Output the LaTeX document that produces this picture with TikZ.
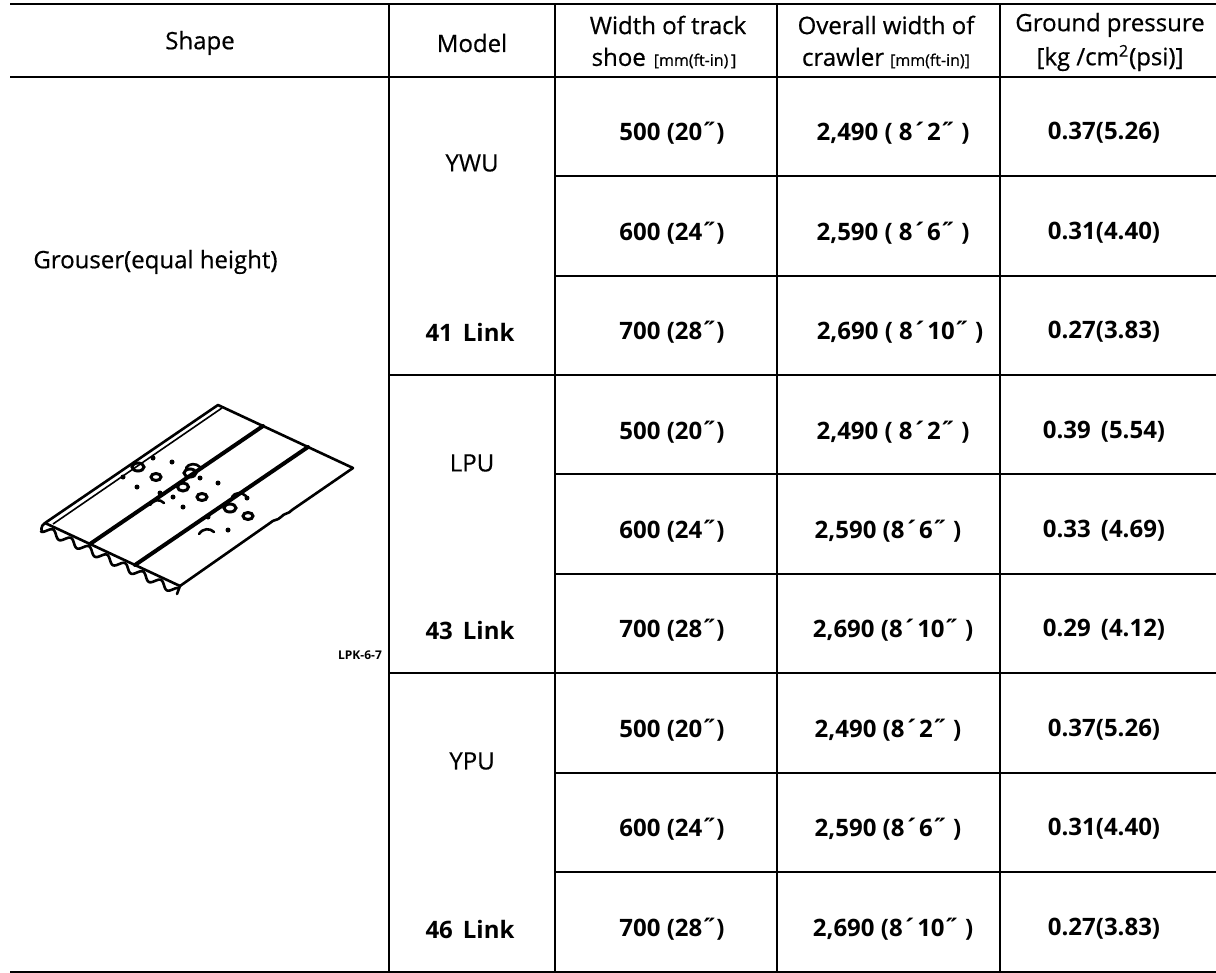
\documentclass[tikz,border=0pt]{standalone}
\usepackage{fontspec}
\setmainfont{Open Sans}
\begin{document}
\begin{tikzpicture}[x=0.5pt,y=-0.5pt]
\tikzset{
  hline/.style={line width=1.4pt},
  vline/.style={line width=1.1pt},
  hdr/.style={font=\fontsize{12}{14}\selectfont\addfontfeature{FakeBold=0.6}, inner sep=0pt},
  cell/.style={font=\bfseries\fontsize{12}{14}\selectfont, inner sep=0pt},
  modelname/.style={font=\fontsize{12}{14}\selectfont\addfontfeature{FakeBold=0.4}, inner sep=0pt},
  linkname/.style={font=\bfseries\fontsize{12}{14}\selectfont, inner sep=0pt},
  art/.style={line width=1.3pt, line join=round, line cap=round},
  ring/.style={line width=1.5pt},
}
\useasboundingbox (0,0) rectangle (1216,973);
\fill[white] (0,0) rectangle (1216,973);

% ---- grid ----
\draw[hline] (10,4) -- (1216,4);
\draw[hline] (10,77) -- (1216,77);
\foreach \yy in {176,276,474,574,773,872} \draw[hline] (555,\yy) -- (1216,\yy);
\foreach \yy in {375,673} \draw[hline] (389,\yy) -- (1216,\yy);
\draw[hline] (10,972) -- (1216,972);
\foreach \xx in {389,555,777,1000} \draw[vline] (\xx,4) -- (\xx,972);

% ---- header ----
\node[hdr] (hShape) at (200,43) {Shape};
\node[hdr] (hModel) at (472,43) {Model};
\node[hdr] (hW1) at (668,25) {Width of track};
\node[hdr] (hW2) at (664,58) {shoe\hspace{4pt}{\fontsize{8}{9}\selectfont [mm(ft-in)\,]}};
\node[hdr] (hO1) at (886,25) {Overall width of};
\node[hdr] (hO2) at (886,58) {crawler\hspace{3pt}{\fontsize{8}{9}\selectfont [mm(ft-in)]}};
\node[hdr] (hG1) at (1110,25) {Ground\hspace{3pt}pressure};
\node[hdr] (hG2) at (1110,58) {[kg /cm\textsuperscript{2}(psi)]};

% ---- shape column ----
\node[hdr, anchor=west] (shape) at (33,262) {Grouser(equal height)};
\node[font=\bfseries\fontsize{6}{7}\selectfont, inner sep=0pt] (code) at (360,655) {LPK-6-7};

% ---- model column ----
\node[modelname] (m1) at (472,163) {YWU};
\node[linkname] (l1) at (470,332) {41\hspace{5pt}Link};
\node[modelname] (m2) at (472,463) {LPU};
\node[linkname] (l2) at (470,630) {43\hspace{5pt}Link};
\node[modelname] (m3) at (472,761) {YPU};
\node[linkname] (l3) at (470,929) {46\hspace{5pt}Link};

% ---- width of track shoe ----
\node[cell] (w1) at (672,133) {500 (20˝)};
\node[cell] (w2) at (672,233) {600 (24˝)};
\node[cell] (w3) at (672,332) {700 (28˝)};
\node[cell] (w4) at (672,432) {500 (20˝)};
\node[cell] (w5) at (672,531) {600 (24˝)};
\node[cell] (w6) at (672,630) {700 (28˝)};
\node[cell] (w7) at (672,730) {500 (20˝)};
\node[cell] (w8) at (672,829) {600 (24˝)};
\node[cell] (w9) at (672,929) {700 (28˝)};

% ---- overall width of crawler ----
\node[cell] (o1) at (893,133) {2,490 (\ 8´2˝ )};
\node[cell] (o2) at (893,233) {2,590 (\ 8´6˝ )};
\node[cell] (o3) at (900,332) {2,690 (\ 8´10˝ )};
\node[cell] (o4) at (893,432) {2,490 (\ 8´2˝ )};
\node[cell] (o5) at (888,531) {2,590 (8´6˝ )};
\node[cell] (o6) at (893,630) {2,690 (8´10˝ )};
\node[cell] (o7) at (888,730) {2,490 (8´2˝ )};
\node[cell] (o8) at (888,829) {2,590 (8´6˝ )};
\node[cell] (o9) at (893,929) {2,690 (8´10˝ )};

% ---- ground pressure ----
\node[cell] (g1) at (1104,133) {0.37(5.26)};
\node[cell] (g2) at (1104,233) {0.31(4.40)};
\node[cell] (g3) at (1104,332) {0.27(3.83)};
\node[cell] (g4) at (1104,432) {0.39\hspace{5pt}(5.54)};
\node[cell] (g5) at (1104,531) {0.33\hspace{5pt}(4.69)};
\node[cell] (g6) at (1104,630) {0.29\hspace{5pt}(4.12)};
\node[cell] (g7) at (1104,730) {0.37(5.26)};
\node[cell] (g8) at (1104,829) {0.31(4.40)};
\node[cell] (g9) at (1104,929) {0.27(3.83)};

% ---- track shoe illustration ----
% outline
\draw[art] (45,523) -- (218,405) -- (353,468);
\draw[art] (353,468) -- (292,510) .. controls (289,514) and (284,513) .. (281,517)
   .. controls (277,521) and (274,519) .. (270,523) -- (180,586);
\draw[art] (45,523) -- (180,586);
% double line along grouser edge
\draw[line width=0.8pt] (53,524) -- (222,408);
% plate joints
\draw[art, line width=2pt] (263,426) -- (90,544);
\draw[art, line width=2pt] (308,447) -- (135,565);
% grouser profile along front edge
\draw[art] plot[domain=0:1, samples=160, smooth]
  ({45+135*\x - 0.423*(6+3.5*sin(\x*2700+90))}, {523+63*\x + 0.906*(6+3.5*sin(\x*2700+90))});
\draw[art] (45,523) .. controls (40,526) and (41,532) .. (43,532);
\draw[art] (180,586) -- (177,594);
% link bosses on joints
\draw[art] (150,505) .. controls (154,499) and (160,499) .. (164,503);
\draw[art] (186,468) .. controls (189,463) and (196,463) .. (200,467);
\draw[art] (199,534) .. controls (203,528) and (210,528) .. (214,532);
\draw[art] (232,497) .. controls (235,492) and (242,492) .. (246,496);
% holes plate 1
\draw[ring] (138,467) ellipse [x radius=6, y radius=4];
\draw[ring] (156,477) ellipse [x radius=5, y radius=3.5];
\fill (153,458) circle [radius=2.5];
\fill (172,462) circle [radius=2.5];
\fill (123,477) circle [radius=2.5];
\fill (137,487) circle [radius=2.5];
% holes plate 2
\draw[ring] (190,473) ellipse [x radius=6, y radius=4];
\draw[ring] (183,487) ellipse [x radius=5.5, y radius=4];
\draw[ring] (202,497) ellipse [x radius=5, y radius=3.5];
\fill (200,478) circle [radius=2.5];
\fill (218,483) circle [radius=2.5];
\fill (183,507) circle [radius=2.5];
\fill (173,497) circle [radius=2.5];
\fill (160,493) circle [radius=2.5];
% holes plate 3
\draw[ring] (230,508) ellipse [x radius=6, y radius=4];
\draw[ring] (248,516) ellipse [x radius=5, y radius=3.5];
\fill (247,498) circle [radius=2.5];
\fill (228,530) circle [radius=2.5];
\fill (208,517) circle [radius=2.5];
\end{tikzpicture}
\end{document}
